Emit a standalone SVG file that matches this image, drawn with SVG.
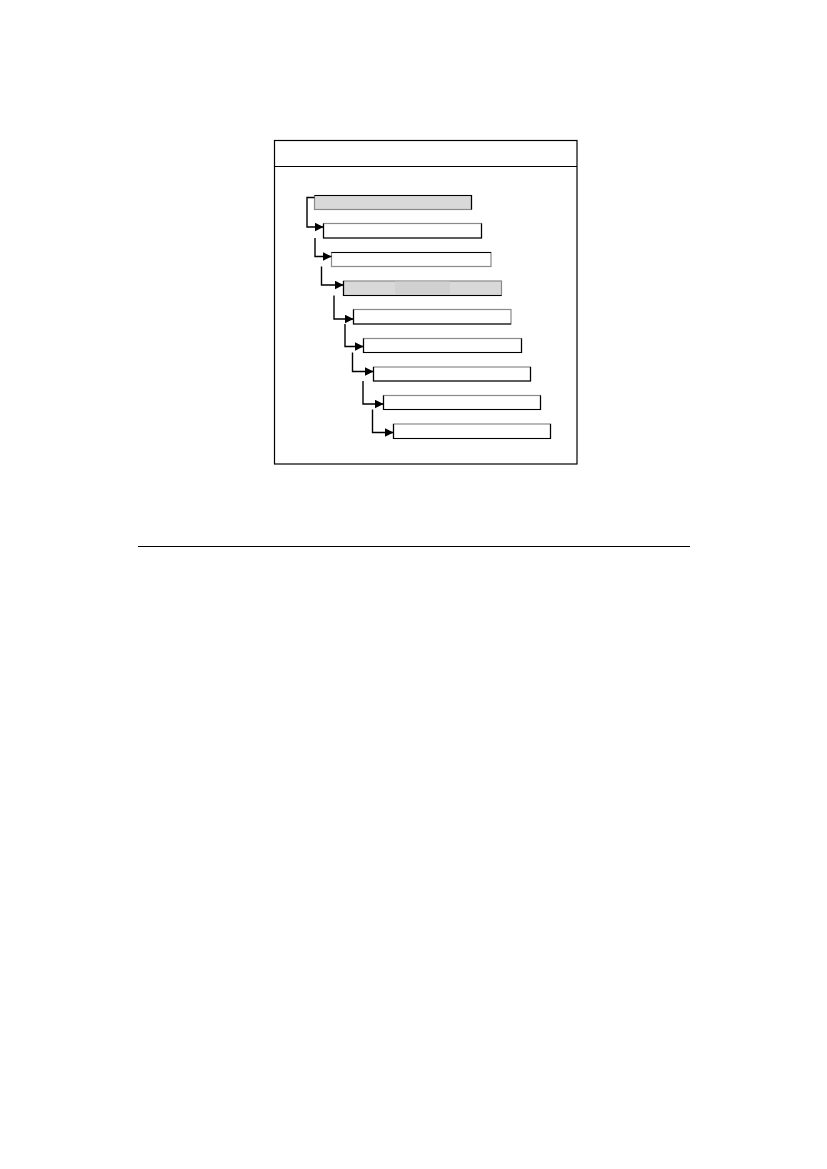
<svg xmlns="http://www.w3.org/2000/svg" width="827" height="1169" viewBox="0 0 827 1169">
<defs>
<style>
.frame{fill:none;stroke:#000;stroke-width:1.2}
.bar{fill:#fff;stroke:#8a8a8a;stroke-width:1.2}
.gray{fill:#d9d9d9}
.edge{stroke:#000;stroke-width:1.2;fill:none}
.conn{fill:none;stroke:#000;stroke-width:1.4}
</style>
<marker id="arr" viewBox="0 0 10 10" refX="10" refY="5" markerWidth="9" markerHeight="9" markerUnits="userSpaceOnUse" orient="auto">
<path d="M0,0 L10,5 L0,10 z" fill="#000"/>
</marker>
</defs>
<rect width="827" height="1169" fill="#fff"/>
<g id="frame">
<rect class="frame" x="274.5" y="140.5" width="302.5" height="323.5"/>
<line class="frame" x1="274.5" y1="166.5" x2="577" y2="166.5"/>
</g>
<g id="bar1"><rect class="bar gray" x="314.5" y="195.5" width="157" height="14"/><path class="edge" d="M314.5,195.5 H471.5 V209.5"/></g>
<g id="bar2"><rect class="bar" x="323.5" y="223.5" width="158" height="14.5"/><path class="edge" d="M323.5,223.5 V238 H481.5 V223.5"/></g>
<g id="bar3"><rect class="bar" x="331.5" y="252.5" width="159.5" height="14"/><path class="edge" d="M331.5,252.5 H491"/></g>
<g id="bar4"><rect class="bar gray" x="343.5" y="281" width="158" height="14.5"/><rect x="395" y="281.6" width="55" height="13.3" fill="#d1d1d1"/><path class="edge" d="M343.5,281 V295.5 H501.5"/></g>
<g id="bar5"><rect class="bar" x="353.5" y="309.5" width="157.5" height="14.5"/><path class="edge" d="M353.5,309.5 V324 H511"/></g>
<g id="bar6"><rect class="bar" x="363.5" y="338.5" width="158" height="14"/><path class="edge" d="M363.5,338.5 V352.5 H521.5 V338.5"/></g>
<g id="bar7"><rect class="bar" x="373.5" y="367" width="157" height="14"/><path class="edge" d="M373.5,367 V381 H530.5 V367"/></g>
<g id="bar8"><rect class="bar" x="383.5" y="395.5" width="157" height="14"/><path class="edge" d="M383.5,395.5 V409.5 H540.5 V395.5"/></g>
<g id="bar9"><rect class="bar" x="393.5" y="424" width="157" height="14.5"/><path class="edge" d="M393.5,424 V438.5 H550.5 V424"/></g>
<g id="connectors">
<path class="conn" marker-end="url(#arr)" d="M314.5,197.5 H307 V227 H323.5"/>
<path class="conn" marker-end="url(#arr)" d="M315,238 V256.5 H331.5"/>
<path class="conn" marker-end="url(#arr)" d="M321.5,266.5 V285 H343.5"/>
<path class="conn" marker-end="url(#arr)" d="M334,295.5 V319 H353.5"/>
<path class="conn" marker-end="url(#arr)" d="M345,324 V346.5 H363.5"/>
<path class="conn" marker-end="url(#arr)" d="M352.5,352.5 V371.5 H373.5"/>
<path class="conn" marker-end="url(#arr)" d="M363,381 V404 H383.5"/>
<path class="conn" marker-end="url(#arr)" d="M372.5,409.5 V432.5 H393.5"/>
</g>
<line x1="138" y1="546.5" x2="690" y2="546.5" stroke="#000" stroke-width="1.2"/>
</svg>
